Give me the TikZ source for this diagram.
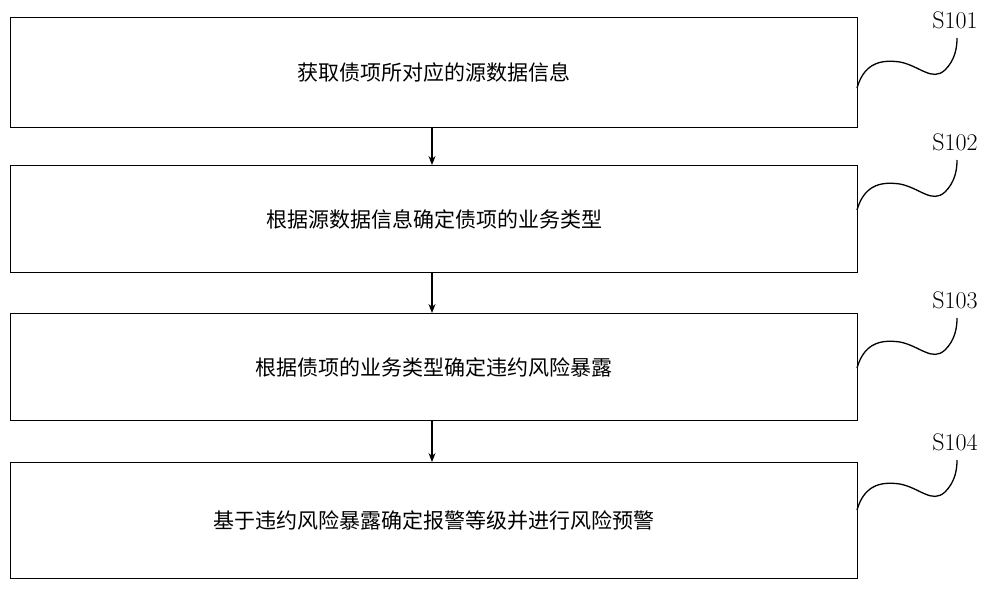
\documentclass[tikz,border=0pt]{standalone}
\usepackage{fontspec}
\newfontfamily\cjk{Noto Sans CJK SC}
\usetikzlibrary{arrows.meta}
\begin{document}
\begin{tikzpicture}[x=1pt,y=-1pt,
  stepbox/.style={draw,line width=1pt,minimum width=847pt,anchor=north west,inner sep=0pt,font=\cjk\fontsize{21}{21}\selectfont},
  lab/.style={font=\fontsize{24}{24}\selectfont},
  arr/.style={-{Stealth[length=9pt,width=7pt]},line width=1.2pt}]
\useasboundingbox (0,0) rectangle (1000,589);
\node[stepbox,minimum height=110pt] (b1) at (10,17) {获取债项所对应的源数据信息};
\node[stepbox,minimum height=107pt] (b2) at (10,165) {根据源数据信息确定债项的业务类型};
\node[stepbox,minimum height=107pt] (b3) at (10,313) {根据债项的业务类型确定违约风险暴露};
\node[stepbox,minimum height=116pt] (b4) at (10,462) {基于违约风险暴露确定报警等级并进行风险预警};
\draw[arr] (b1.south -| 432,0) -- (b2.north -| 432,0);
\draw[arr] (b2.south -| 432,0) -- (b3.north -| 432,0);
\draw[arr] (b3.south -| 432,0) -- (b4.north -| 432,0);
\foreach \n/\t/\y in {1/S101/20,2/S102/142,3/S103/300,4/S104/442}{
  \node[lab] (l\n) at (955,\y) {\t};
  \coordinate (c\n) at (957,\y+18);
  \draw[line width=1.3pt] (857,\y+68) .. controls (865,\y+40) and (885,\y+40) .. (900,\y+42)
     .. controls (920,\y+46) and (932,\y+62) .. (945,\y+50) .. controls (955,\y+40) and (957,\y+28) .. (c\n);
}
\end{tikzpicture}
\end{document}
